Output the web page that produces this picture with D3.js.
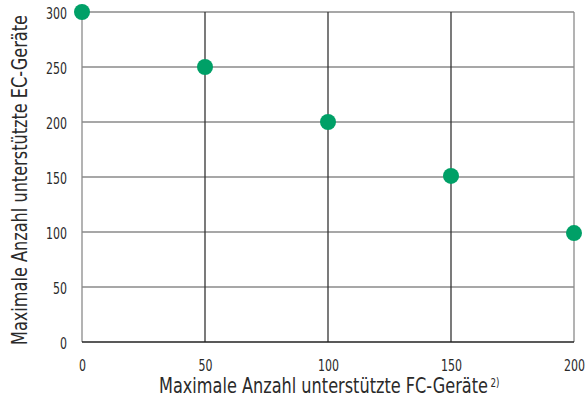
<!DOCTYPE html>
<html>
<head>
<meta charset="utf-8">
<script src="https://cdn.jsdelivr.net/npm/d3@7"></script>
<style>
  body { margin: 0; background: #fff; }
  svg text { font-family: "DejaVu Sans Condensed", "Liberation Sans Narrow", "Roboto", sans-serif; fill: #2a2a2a; }
</style>
</head>
<body>
<svg id="chart" width="586" height="399"></svg>
<script>
// Supported FC devices vs. supported EC devices
const fcDevices = [0, 50, 100, 150, 200];
const ecDevices = [300, 250, 200, 151, 99];
const xTicks = [0, 50, 100, 150, 200];
const yTicks = [0, 50, 100, 150, 200, 250, 300];

const svg = d3.select("#chart");
const plot = { left: 82, right: 574, top: 12, bottom: 342 };

const x = d3.scaleLinear().domain([0, 200]).range([plot.left, plot.right]);
const y = d3.scaleLinear().domain([0, 300]).range([plot.bottom, plot.top]);

// horizontal grid
svg.append("g").selectAll("line").data(yTicks.filter(d => d > 0)).join("line")
  .attr("x1", plot.left).attr("x2", plot.right)
  .attr("y1", d => y(d)).attr("y2", d => y(d))
  .attr("stroke", "#8a8a8a").attr("stroke-width", 1.3);

// vertical grid
svg.append("g").selectAll("line").data(xTicks).join("line")
  .attr("x1", d => x(d)).attr("x2", d => x(d))
  .attr("y1", plot.top).attr("y2", plot.bottom)
  .attr("stroke", d => (d === 0 || d === 200) ? "#8a8a8a" : "#333")
  .attr("stroke-width", 1.3);

// baseline
svg.append("line").attr("x1", plot.left).attr("x2", plot.right)
  .attr("y1", plot.bottom).attr("y2", plot.bottom)
  .attr("stroke", "#222").attr("stroke-width", 1.3);

// narrow the tick digits to a condensed width
const condense = sel => sel
  .style("font-size", "15px")
  .attr("textLength", d => String(d).length * 7)
  .attr("lengthAdjust", "spacingAndGlyphs");

// y axis labels
const yAxis = d3.axisLeft(y).tickValues(yTicks).tickSize(0).tickPadding(15);
const gy = svg.append("g").attr("transform", `translate(${plot.left},0)`).call(yAxis);
gy.select(".domain").remove();
gy.selectAll("text").call(condense).attr("dy", "0.4em");

// x axis labels
const xAxis = d3.axisBottom(x).tickValues(xTicks).tickSize(0).tickPadding(18);
const gx = svg.append("g").attr("transform", `translate(0,${plot.bottom})`).call(xAxis);
gx.select(".domain").remove();
gx.selectAll("text").call(condense);

// axis titles
const xTitle = svg.append("text")
  .attr("x", 159).attr("y", 393)
  .style("font-size", "21px");
xTitle.append("tspan")
  .attr("textLength", 329).attr("lengthAdjust", "spacingAndGlyphs")
  .text("Maximale Anzahl unterstützte FC-Geräte");
xTitle.append("tspan")
  .attr("x", 490.5).attr("dy", -6)
  .attr("textLength", 9).attr("lengthAdjust", "spacingAndGlyphs")
  .style("font-size", "12px")
  .text("2)");

svg.append("text")
  .attr("transform", "translate(27,345) rotate(-90)")
  .attr("textLength", 330).attr("lengthAdjust", "spacingAndGlyphs")
  .style("font-size", "21px")
  .text("Maximale Anzahl unterstützte EC-Geräte");

// points
svg.append("g").selectAll("circle").data(fcDevices.map((d, i) => [d, ecDevices[i]])).join("circle")
  .attr("cx", d => x(d[0])).attr("cy", d => y(d[1]))
  .attr("r", 8)
  .attr("fill", "#00a067");
</script>
</body>
</html>
